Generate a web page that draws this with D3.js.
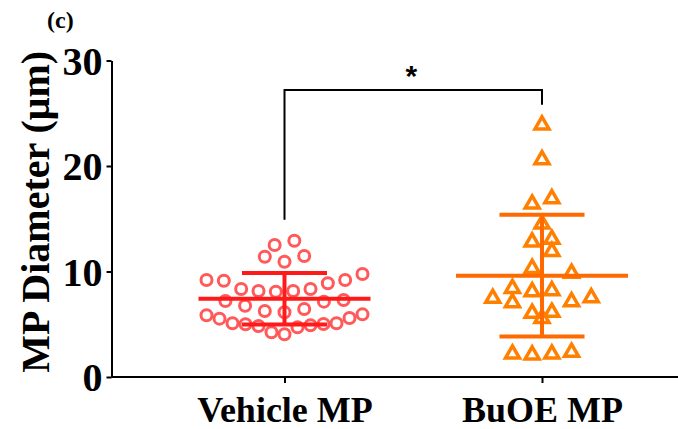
<!DOCTYPE html>
<html>
<head>
<meta charset="utf-8">
<script src="https://cdn.jsdelivr.net/npm/d3@7"></script>
<style>
  body { margin: 0; background: #fff; }
  svg { display: block; }
</style>
</head>
<body>
<svg id="chart" width="678" height="429"></svg>
<script>
// ---------------- data ----------------
const categories = ["Vehicle MP", "BuOE MP"];
const vehicleValues = [
  12.51, 12.92,
  11.40, 10.93, 11.47,
  9.19, 9.13, 8.34, 8.09, 8.15, 8.15, 8.34, 8.88, 9.19, 9.76,
  7.20, 6.76, 6.26, 6.14, 6.45, 7.14, 7.30,
  5.94, 5.53, 5.09, 5.02, 4.83, 4.71, 4.05, 4.24, 4.90, 5.00, 5.09, 5.59, 5.85
];
const buoeValues = [
  23.9, 20.6, 16.4, 16.9, 14.5, 13.05, 12.8, 11.9, 10.3, 9.83,
  8.4, 8.09, 8.18, 7.46, 7.05, 7.14, 7.52, 6.04, 5.56, 6.13,
  2.18, 2.09, 2.18, 2.34
];
const yTicks = [0, 10, 20, 30];
const yTitle = "MP Diameter (\u03bcm)";
const panelLabel = "(c)";
const sigLabel = "*";
const bracket = { top: 27.2, leftEnd: 14.9, rightEnd: 25.8 };

// ---------------- layout ----------------
const svg = d3.select("#chart");
const axisX0 = 111.5, axisRight = 678;
const y = d3.scaleLinear().domain([0, 30]).range([377, 60.5]);
const x = d3.scalePoint().domain(categories).range([284.5, 542]);

const serif = "'Liberation Serif', 'Times New Roman', serif";

// beeswarm in horizontal bands (GraphPad-like)
function swarm(values, cx, spacingMax, halfMax, bandSize) {
  const bands = d3.group(values.map((v, i) => ({ v, i })), d => Math.floor(d.v / bandSize));
  const out = [];
  for (const [, pts] of bands) {
    pts.sort((a, b) => a.v - b.v);
    const n = pts.length;
    const sp = n > 1 ? Math.min(spacingMax, (2 * halfMax) / (n - 1)) : 0;
    const slots = d3.range(n).map(k => (k - (n - 1) / 2) * sp);
    slots.sort((a, b) => (Math.abs(a) - Math.abs(b)) || (a - b));
    pts.forEach((p, k) => out.push({ v: p.v, x: cx + slots[k] }));
  }
  return out;
}

const groups = [
  { name: categories[0], values: vehicleValues, point: "#ff4747", line: "#ff1a1a", shape: "circle" },
  { name: categories[1], values: buoeValues, point: "#ff8000", line: "#ff6a00", shape: "triangle" }
];

const g = svg.append("g");

groups.forEach(gr => {
  const cx = x(gr.name);
  const pts = swarm(gr.values, cx, 19.7, 78, 2);
  if (gr.shape === "circle") {
    g.selectAll(null).data(pts).enter().append("circle")
      .attr("cx", d => d.x).attr("cy", d => y(d.v)).attr("r", 5.5)
      .attr("fill", "none").attr("stroke", gr.point).attr("stroke-width", 3)
      .attr("stroke-opacity", 0.9);
  } else {
    const sym = d3.symbol().type(d3.symbolTriangle).size(85);
    g.selectAll(null).data(pts).enter().append("path")
      .attr("d", sym)
      .attr("transform", d => `translate(${d.x},${y(d.v)})`)
      .attr("fill", "none").attr("stroke", gr.point).attr("stroke-width", 3.5)
      .attr("stroke-linejoin", "miter");
  }
  const mean = d3.mean(gr.values);
  const sd = d3.deviation(gr.values);
  const lg = g.append("g").attr("stroke", gr.line).attr("stroke-width", 4).attr("fill", "none");
  lg.append("line").attr("x1", cx - 86).attr("x2", cx + 86).attr("y1", y(mean)).attr("y2", y(mean));
  lg.append("line").attr("x1", cx).attr("x2", cx).attr("y1", y(mean - sd)).attr("y2", y(mean + sd));
  lg.append("line").attr("x1", cx - 42.5).attr("x2", cx + 42.5).attr("y1", y(mean + sd)).attr("y2", y(mean + sd));
  lg.append("line").attr("x1", cx - 42.5).attr("x2", cx + 42.5).attr("y1", y(mean - sd)).attr("y2", y(mean - sd));
});

// ---------------- axes ----------------
const yAxis = svg.append("g").attr("transform", `translate(${axisX0},0)`)
  .call(d3.axisLeft(y).tickValues(yTicks).tickSize(5).tickSizeOuter(0).tickPadding(4));
yAxis.select(".domain").attr("stroke-width", 2);
yAxis.selectAll(".tick line").attr("stroke-width", 2);
yAxis.selectAll(".tick text").attr("font-family", serif).attr("font-weight", "bold")
  .attr("font-size", 40).attr("fill", "#000").attr("dy", "0.34em");

const xAxis = svg.append("g").attr("transform", `translate(0,${y(0)})`)
  .call(d3.axisBottom(x).tickSize(6).tickSizeOuter(0).tickPadding(13));
xAxis.select(".domain").attr("d", `M${axisX0},0H${axisRight}`).attr("stroke-width", 2);
xAxis.selectAll(".tick line").attr("stroke-width", 2);
xAxis.selectAll(".tick text").attr("font-family", serif).attr("font-weight", "bold")
  .attr("font-size", 36).attr("fill", "#000").attr("dy", "0.71em");

// y title
svg.append("text")
  .attr("transform", `translate(49,${(y(0) + y(30)) / 2 - 7}) rotate(-90)`)
  .attr("text-anchor", "middle")
  .attr("font-family", serif).attr("font-weight", "bold").attr("font-size", 40)
  .text(yTitle);

// panel label
svg.append("text").attr("x", 47).attr("y", 28)
  .attr("font-family", serif).attr("font-weight", "bold").attr("font-size", 24)
  .text(panelLabel);

// significance bracket
const xl = x(categories[0]), xr = x(categories[1]);
svg.append("path")
  .attr("d", `M${xl},${y(bracket.leftEnd)}V${y(bracket.top)}H${xr}V${y(bracket.rightEnd)}`)
  .attr("fill", "none").attr("stroke", "#000").attr("stroke-width", 2);
svg.append("text").attr("x", (xl + xr) / 2 - 2).attr("y", y(bracket.top) - 4)
  .attr("text-anchor", "middle")
  .attr("font-family", "'Liberation Sans', Arial, sans-serif").attr("font-weight", "bold").attr("font-size", 30)
  .text(sigLabel);
</script>
</body>
</html>
